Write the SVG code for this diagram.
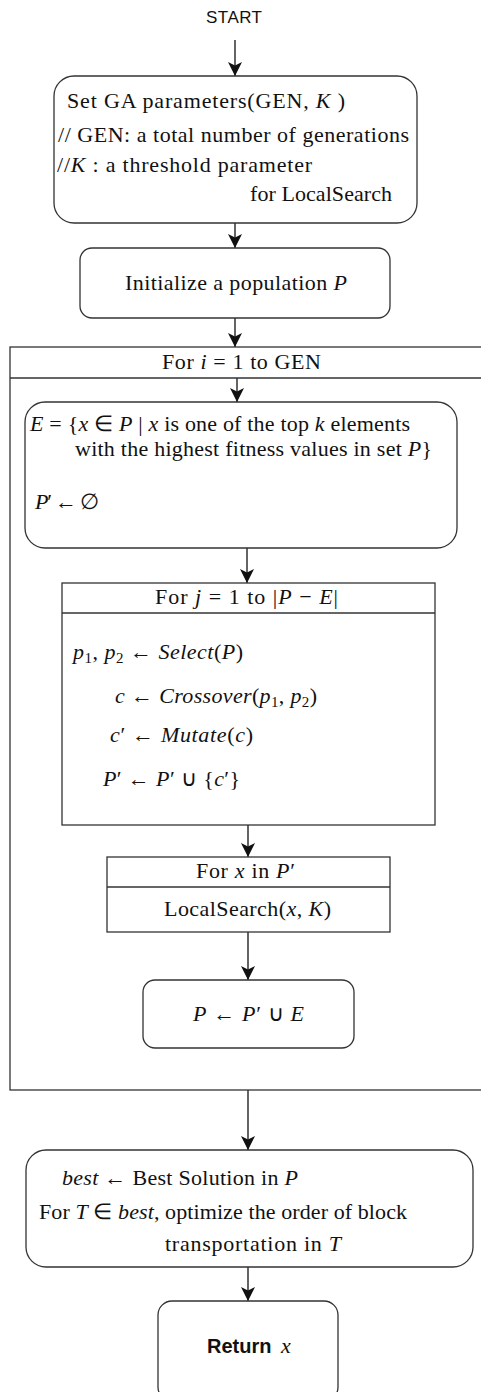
<svg xmlns="http://www.w3.org/2000/svg" width="481" height="1392" viewBox="0 0 481 1392">
<style>
.box{fill:#fff;stroke:#333;stroke-width:1.3}
.ln{fill:none;stroke:#111;stroke-width:1.3}
.t{font-family:"Liberation Serif","Times New Roman",serif;font-size:22px;fill:#111}
.i{font-style:italic}
.sub{font-size:15px}
.sans{font-family:"Liberation Sans",Arial,sans-serif;fill:#111}
</style>
<defs>
<marker id="arr" markerUnits="userSpaceOnUse" markerWidth="14" markerHeight="14" viewBox="0 0 12 12" refX="12" refY="6" orient="auto">
<path d="M0,0 L12,6 L0,12 L3,6 z" fill="#111"/>
</marker>
</defs>
<rect width="481" height="1392" fill="#fff"/>

<g id="connectors">
<line class="ln" x1="235" y1="40" x2="235" y2="76" marker-end="url(#arr)"/>
<line class="ln" x1="235" y1="223" x2="235" y2="248" marker-end="url(#arr)"/>
<line class="ln" x1="235" y1="318" x2="235" y2="347" marker-end="url(#arr)"/>
<line class="ln" x1="237" y1="378" x2="237" y2="402" marker-end="url(#arr)"/>
<line class="ln" x1="247" y1="548" x2="247" y2="583" marker-end="url(#arr)"/>
<line class="ln" x1="248" y1="825" x2="248" y2="857" marker-end="url(#arr)"/>
<line class="ln" x1="248" y1="932" x2="248" y2="980" marker-end="url(#arr)"/>
<line class="ln" x1="248" y1="1090" x2="248" y2="1150" marker-end="url(#arr)"/>
<line class="ln" x1="248" y1="1267" x2="248" y2="1301" marker-end="url(#arr)"/>
</g>

<g id="start">
<text class="sans" x="206" y="23" font-size="17" textLength="56">START</text>
</g>

<g id="set-params">
<rect class="box" x="54" y="76" width="363" height="147" rx="20"/>
<text class="t" x="67" y="108" textLength="278">Set GA parameters(GEN,  <tspan class="i">K</tspan> )</text>
<text class="t" x="58" y="142" textLength="351">// GEN: a total number of generations</text>
<text class="t" x="57" y="172" textLength="255">//<tspan class="i">K</tspan> : a threshold parameter</text>
<text class="t" x="250" y="201" textLength="142">for LocalSearch</text>
</g>

<g id="init">
<rect class="box" x="80" y="248" width="310" height="70" rx="12"/>
<text class="t" x="125" y="290" textLength="222">Initialize a population <tspan class="i">P</tspan></text>
</g>

<g id="loop-gen">
<rect class="box" x="10" y="347" width="480" height="743" style="fill:none"/>
<line class="ln" x1="10" y1="378" x2="481" y2="378" style="stroke:#333"/>
<text class="t" x="162" y="369" textLength="159">For <tspan class="i">i</tspan> = 1 to GEN</text>
</g>

<g id="elite">
<rect class="box" x="25" y="402" width="432" height="146" rx="20"/>
<text class="t" x="30" y="431" textLength="380"><tspan class="i">E</tspan> = {<tspan class="i">x</tspan> ∈ <tspan class="i">P</tspan> | <tspan class="i">x</tspan> is one of the top <tspan class="i">k</tspan> elements</text>
<text class="t" x="75" y="456" textLength="357">with the highest fitness values in set <tspan class="i">P</tspan>}</text>
<text class="t" x="35" y="509" textLength="64"><tspan class="i">P</tspan>′ ← ∅</text>
</g>

<g id="loop-j">
<rect class="box" x="62" y="583" width="373" height="242"/>
<line class="ln" x1="62" y1="613" x2="435" y2="613" style="stroke:#333"/>
<text class="t" x="155" y="604" textLength="183">For <tspan class="i">j</tspan> = 1 to |<tspan class="i">P</tspan> − <tspan class="i">E</tspan>|</text>
<text class="t" x="73" y="659" textLength="170"><tspan class="i">p</tspan><tspan class="sub" dy="4">1</tspan><tspan dy="-4">, </tspan><tspan class="i">p</tspan><tspan class="sub" dy="4">2</tspan><tspan dy="-4"> ← </tspan><tspan class="i">Select</tspan>(<tspan class="i">P</tspan>)</text>
<text class="t" x="115" y="703" textLength="202"><tspan class="i">c</tspan> ← <tspan class="i">Crossover</tspan>(<tspan class="i">p</tspan><tspan class="sub" dy="4">1</tspan><tspan dy="-4">, </tspan><tspan class="i">p</tspan><tspan class="sub" dy="4">2</tspan><tspan dy="-4">)</tspan></text>
<text class="t" x="110" y="742" textLength="143"><tspan class="i">c</tspan>′ ← <tspan class="i">Mutate</tspan>(<tspan class="i">c</tspan>)</text>
<text class="t" x="103" y="786" textLength="137"><tspan class="i">P</tspan>′ ← <tspan class="i">P</tspan>′ ∪ {<tspan class="i">c</tspan>′}</text>
</g>

<g id="loop-x">
<rect class="box" x="107" y="857" width="283" height="75"/>
<line class="ln" x1="107" y1="887" x2="390" y2="887" style="stroke:#333"/>
<text class="t" x="196" y="878" textLength="99">For <tspan class="i">x</tspan> in <tspan class="i">P</tspan>′</text>
<text class="t" x="164" y="916" textLength="167">LocalSearch(<tspan class="i">x</tspan>, <tspan class="i">K</tspan>)</text>
</g>

<g id="merge">
<rect class="box" x="143" y="980" width="211" height="68" rx="12"/>
<text class="t" x="193" y="1021" textLength="111"><tspan class="i">P</tspan> ← <tspan class="i">P</tspan>′ ∪ <tspan class="i">E</tspan></text>
</g>

<g id="best">
<rect class="box" x="26" y="1150" width="447" height="117" rx="20"/>
<text class="t" x="62" y="1185" textLength="236"><tspan class="i">best</tspan> ← Best Solution in <tspan class="i">P</tspan></text>
<text class="t" x="39" y="1219" textLength="368">For <tspan class="i">T</tspan> ∈ <tspan class="i">best</tspan>, optimize the order of block</text>
<text class="t" x="165" y="1251" textLength="176">transportation in <tspan class="i">T</tspan></text>
</g>

<g id="return">
<rect class="box" x="158" y="1301" width="180" height="100" rx="14"/>
<text class="sans" x="207" y="1353" font-size="20" font-weight="bold">Return <tspan class="t i" font-weight="normal" font-size="19" dx="4">x</tspan></text>
</g>
</svg>
